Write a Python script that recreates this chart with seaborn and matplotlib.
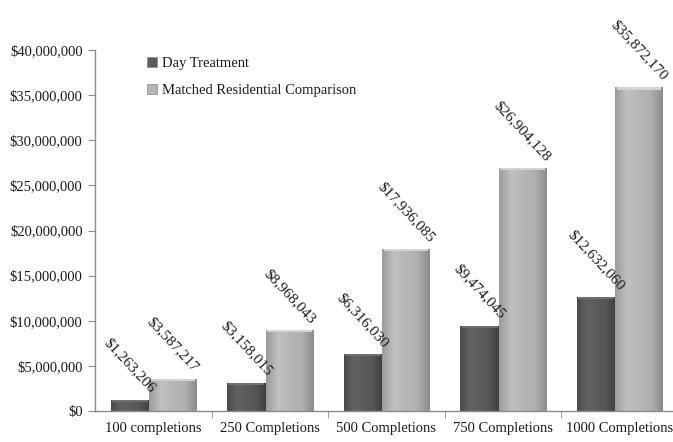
import matplotlib
matplotlib.use("Agg")
import matplotlib.pyplot as plt
import seaborn as sns
import numpy as np
import pandas as pd
from matplotlib.patches import Patch
from matplotlib.colors import LinearSegmentedColormap
from matplotlib.ticker import FuncFormatter

# Data
categories = ["100 completions", "250 Completions", "500 Completions",
              "750 Completions", "1000 Completions"]
day_treatment = [1263206, 3158015, 6316030, 9474045, 12632060]
residential = [3587217, 8968043, 17936085, 26904128, 35872170]
series_names = ["Day Treatment", "Matched Residential Comparison"]

df = pd.DataFrame({
    "category": categories * 2,
    "cost": day_treatment + residential,
    "series": [series_names[0]] * 5 + [series_names[1]] * 5,
})

sns.set_style("ticks")
plt.rcParams["font.family"] = ["Liberation Serif", "DejaVu Serif"]
plt.rcParams["font.size"] = 10.5
plt.rcParams["text.color"] = "#1a1a1a"
plt.rcParams["xtick.color"] = "#1a1a1a"
plt.rcParams["ytick.color"] = "#1a1a1a"

fig = plt.figure(figsize=(6.73, 4.42), dpi=100)
ax = fig.add_axes([0.1412, 0.0701, 0.859, 0.8167])

base_colors = ["#5a5a5a", "#b4b4b4"]
sns.barplot(data=df, x="category", y="cost", hue="series", order=categories,
            hue_order=series_names, palette=base_colors, width=0.73,
            saturation=1, legend=False, ax=ax, zorder=2)

# shading profiles for a bevelled look (left edge, body, right edge)
profiles = {
    0: ["#4a4a4a", "#626262", "#5c5c5c", "#565656", "#3e3e3e"],
    1: ["#9c9c9c", "#c0c0c0", "#b6b6b6", "#b0b0b0", "#8c8c8c"],
}
top_colors = {0: "#707070", 1: "#d4d4d4"}

for i, cont in enumerate(ax.containers):
    cmap = LinearSegmentedColormap.from_list(f"bar{i}", profiles[i])
    grad = np.linspace(0, 1, 64).reshape(1, -1)
    for p in cont.patches:
        if i == 0:
            p.set_width(p.get_width() * 0.9)
        else:
            p.set_x(p.get_x() - 0.035)
            p.set_width(p.get_width() + 0.04)
        x0, w, h = p.get_x(), p.get_width(), p.get_height()
        p.set_facecolor("none")
        p.set_edgecolor("none")
        img = ax.imshow(grad, cmap=cmap, aspect="auto",
                        extent=[x0, x0 + w, 0, h], zorder=2)
        img.set_clip_path(p)
        # thin lighter strip on top
        ax.fill_between([x0 + w * 0.03, x0 + w * 0.97], h - 250000, h,
                        color=top_colors[i], lw=0, zorder=3)
        ax.annotate(f"${h:,.0f}", (x0 + w / 2, h), xytext=(0, 3),
                    textcoords="offset points", rotation=-47,
                    ha="center", va="bottom", fontsize=11)

ax.set_xlim(-0.5, 4.46)
ax.set_ylim(0, 40000000)
ax.set_yticks(np.arange(0, 40000001, 5000000))
ax.yaxis.set_major_formatter(FuncFormatter(lambda v, _: f"${v:,.0f}"))
ax.set_xticks(range(len(categories)))
ax.set_xticklabels(categories)
ax.set_xticks(np.arange(0.5, 4.0, 1), minor=True)
ax.tick_params(axis="x", which="major", length=0, pad=8, labelsize=10.5)
ax.tick_params(axis="x", which="minor", length=5, color="#8a8a8a")
ax.tick_params(axis="y", length=5, color="#8a8a8a", labelsize=10.5, pad=4)
ax.set_xlabel("")
ax.set_ylabel("")
for s in ["top", "right"]:
    ax.spines[s].set_visible(False)
for s in ["left", "bottom"]:
    ax.spines[s].set_color("#8a8a8a")
    ax.spines[s].set_linewidth(1)

handles = [Patch(facecolor=c, edgecolor="#888888", lw=0.5) for c in base_colors]
ax.legend(handles, series_names, loc="upper left", bbox_to_anchor=(0.09, 0.98),
          frameon=False, borderpad=0, borderaxespad=0, handlelength=0.7,
          handleheight=0.7, handletextpad=0.3, labelspacing=0.9, fontsize=10.5)

fig.savefig("out.png", dpi=100)
